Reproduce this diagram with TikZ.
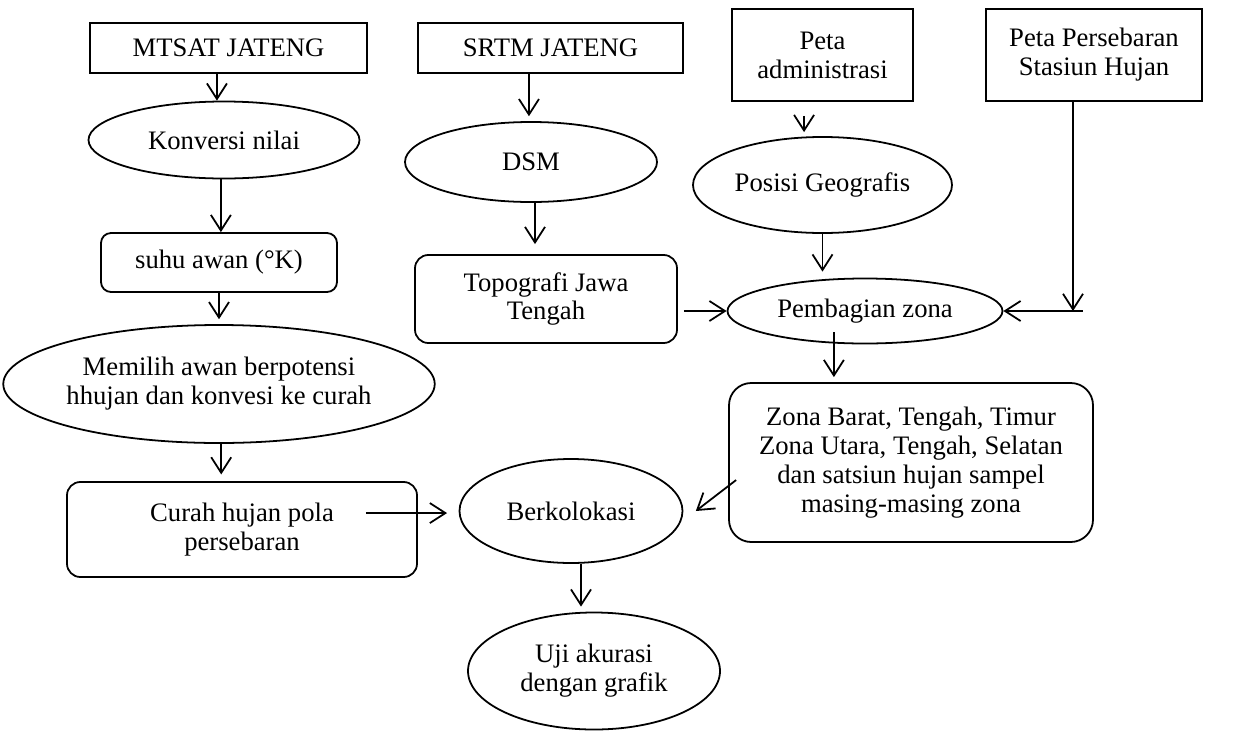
\documentclass[tikz,border=0pt]{standalone}
\usepackage{fontspec}
\setmainfont{Liberation Serif}
\usepackage{tikz}
\usetikzlibrary{arrows.meta}
\usetikzlibrary{shapes.geometric}
\tikzstyle{box} = [draw,rectangle,inner sep=0pt,align=center]
\tikzstyle{proc} = [draw,rectangle,rounded corners=6pt,inner sep=0pt,align=center]
\tikzstyle{oval} = [draw,ellipse,inner sep=0pt,align=center]

\begin{document}
\begin{tikzpicture}[>={Straight Barb[length=7pt,width=9pt]},x=0.45pt,y=-0.45pt,
    line width=0.8pt,font=\fontsize{12}{13}\selectfont]

    \useasboundingbox (0,0) rectangle (1235,731);

% Draw blocks, inputs and outputs

    \node[box, minimum width=124.65pt, minimum height=22.5pt] at (228.5,48) (mtsat) {MTSAT JATENG};
    \node[box, minimum width=119.25pt, minimum height=22.5pt] at (550.5,48) (srtm) {SRTM JATENG};
    \node[box, minimum width=81.45pt, minimum height=41.4pt] at (822.5,55) (petaadm) {Peta\\administrasi};
    \node[box, minimum width=97.2pt, minimum height=41.4pt] at (1094,55) (persebaran) {Peta Persebaran\\Stasiun Hujan};

    \node[oval, minimum width=121.95pt, minimum height=34.65pt] at (224,140) (konversi) {Konversi nilai};
    \node[proc, rounded corners=4.5pt, minimum width=106.2pt, minimum height=26.55pt] at (219,262.5) (suhu) {suhu awan (°K)};
    \node[oval, minimum width=186.3pt, minimum height=53.1pt] at (219,384) (memilih) {Memilih awan berpotensi\\hhujan dan konvesi ke curah};
    \node[proc, minimum width=157.5pt, minimum height=42.75pt] at (242,529.5) (curah) {Curah hujan pola\\persebaran};

    \node[oval, minimum width=113.4pt, minimum height=36pt] at (531,162) (dsm) {DSM};
    \node[proc, minimum width=117.9pt, minimum height=39.6pt] at (546,299) (topo) {Topografi Jawa\\Tengah};

    \node[oval, minimum width=116.55pt, minimum height=43.2pt] at (822.5,185) (posisi) {Posisi Geografis};
    \node[oval, minimum width=123.75pt, minimum height=29.25pt] at (865,311) (pembagian) {Pembagian zona};
    \node[proc, rounded corners=10pt, minimum width=163.8pt, minimum height=71.55pt] at (911,462.5) (zona) {Zona Barat, Tengah, Timur\\Zona Utara, Tengah, Selatan\\dan satsiun hujan sampel\\masing-masing zona};

    \node[oval, minimum width=100.35pt, minimum height=46.8pt] at (571,511) (kolokasi) {Berkolokasi};
    \node[oval, minimum width=113.4pt, minimum height=52.65pt] at (594,671) (uji) {Uji akurasi\\dengan grafik};

    % left column
    \draw[->] ([xshift=-5.2pt]mtsat.south) -- ([xshift=-5.2pt]mtsat.south |- konversi.north);
    \draw[->] ([xshift=-1.4pt]konversi.south) -- ([xshift=-1.4pt]konversi.south |- suhu.north);
    \draw[->] (suhu.south) -- ([yshift=2.2pt]suhu.south |- memilih.north);
    \draw[->] ([xshift=1pt]memilih.south) -- ([xshift=1pt,yshift=3pt]memilih.south |- curah.north);
    \draw[->] ([xshift=-23.4pt,yshift=7.4pt]curah.east) -- ([xshift=-5.2pt,yshift=7.4pt]curah.east -| kolokasi.west);

    % middle column
    \draw[->] ([xshift=-9.7pt]srtm.south) -- ([xshift=-9.7pt,yshift=2.2pt]srtm.south |- dsm.north);
    \draw[->] ([xshift=1.8pt]dsm.south) -- ([xshift=1.8pt,yshift=4.5pt]dsm.south |- topo.north);
    \draw[->] ([xshift=2.7pt]topo.east |- pembagian.west) -- (pembagian.west);

    % right column
    \draw[->] ([xshift=-8.3pt,yshift=-6.3pt]petaadm.south) -- ([xshift=-8.3pt,yshift=1.8pt]petaadm.south |- posisi.north);
    \draw[->] (posisi.south) -- ([yshift=2.7pt]posisi.south |- pembagian.north);
    \draw[->] ([xshift=-9.45pt]persebaran.south) -- ([xshift=-9.45pt]persebaran.south |- pembagian.east);
    \draw[->] ([xshift=35.8pt]pembagian.east) -- (pembagian.east);
    \draw[->] ([xshift=-14pt,yshift=-9.45pt]pembagian.center) -- ([xshift=-14pt,yshift=2.25pt]pembagian.center |- zona.north);

    % bottom
    \draw[->] ([xshift=3.6pt,yshift=-7.9pt]zona.west) -- ([xshift=5.6pt]kolokasi.east);
    \draw[->] ([xshift=4.5pt]kolokasi.south) -- ([xshift=4.5pt,yshift=2.25pt]kolokasi.south |- uji.north);

\end{tikzpicture}
\end{document}
